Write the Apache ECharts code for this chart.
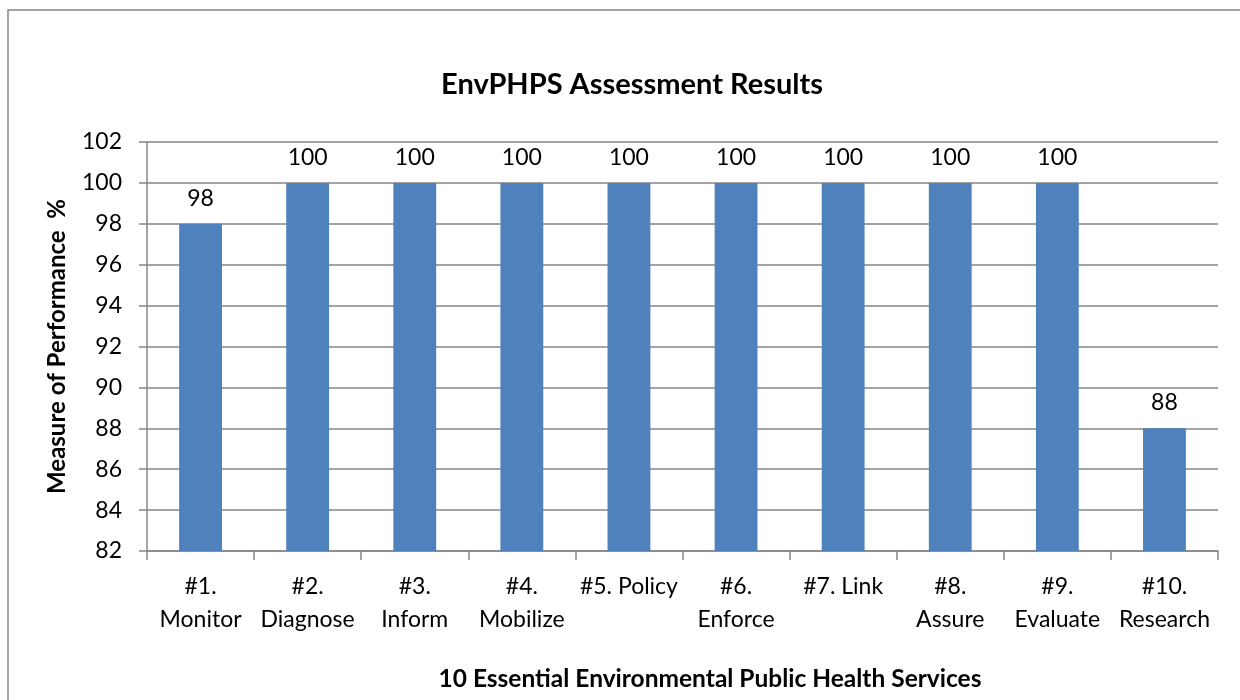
<!DOCTYPE html>
<html>
<head>
<meta charset="utf-8">
<script src="https://cdn.jsdelivr.net/npm/echarts@6/dist/echarts.min.js"></script>
<style>
html,body{margin:0;padding:0;background:#fff;}
#chart{width:1240px;height:700px;}
</style>
</head>
<body>
<div id="chart"></div>
<script>
const categories = ['#1.\nMonitor', '#2.\nDiagnose', '#3.\nInform', '#4.\nMobilize', '#5. Policy', '#6.\nEnforce', '#7. Link', '#8.\nAssure', '#9.\nEvaluate', '#10.\nResearch'];
const performance = [98, 100, 100, 100, 100, 100, 100, 100, 100, 88];
const titleText = 'EnvPHPS Assessment Results';
const xAxisTitle = '10 Essential Environmental Public Health Services';
const yAxisTitle = 'Measure of Performance  %';

const FONT = 'Lato';
const gray = '#868686';
const chart = echarts.init(document.getElementById('chart'));
chart.setOption({
  animation: false,
  backgroundColor: '#fff',
  textStyle: { fontFamily: FONT },
  grid: { left: 147, right: 22, top: 142, bottom: 149 },
  graphic: [
    { type: 'rect', shape: { x: 8, y: 10, width: 1400, height: 900 }, style: { fill: 'none', stroke: gray, lineWidth: 1.5 }, z: -1 },
    { type: 'text', x: 632, y: 85, style: { text: titleText, font: 'bold 29px ' + FONT, fill: '#000', textAlign: 'center', textVerticalAlign: 'middle' } },
    { type: 'text', x: 710, y: 679, style: { text: xAxisTitle, font: 'bold 24.5px ' + FONT, fill: '#000', textAlign: 'center', textVerticalAlign: 'middle' } }
  ],
  xAxis: {
    type: 'category',
    data: categories,
    boundaryGap: true,
    axisLine: { lineStyle: { color: gray, width: 1.5 } },
    axisTick: { show: true, length: 9, alignWithLabel: false, lineStyle: { color: gray, width: 1.5 } },
    axisLabel: { interval: 0, color: '#000', fontSize: 23, lineHeight: 33, margin: 19, fontFamily: FONT }
  },
  yAxis: {
    type: 'value',
    min: 82, max: 102, interval: 2,
    name: yAxisTitle,
    nameLocation: 'middle',
    nameGap: 78,
    nameRotate: 90,
    nameTextStyle: { color: '#000', fontSize: 24, fontWeight: 'bold', fontFamily: FONT },
    axisLine: { show: true, lineStyle: { color: gray, width: 1.5 } },
    axisTick: { show: true, length: 8, inside: false, lineStyle: { color: gray, width: 1.5 } },
    axisLabel: { color: '#000', fontSize: 23, margin: 25, fontFamily: FONT },
    splitLine: { show: true, lineStyle: { color: gray, width: 1.5 } }
  },
  series: [{
    type: 'bar',
    data: performance,
    barWidth: '40%',
    itemStyle: { color: '#4F81BD' },
    label: { show: true, position: 'top', distance: 14, color: '#000', fontSize: 23, fontFamily: FONT }
  }]
});
</script>
</body>
</html>
